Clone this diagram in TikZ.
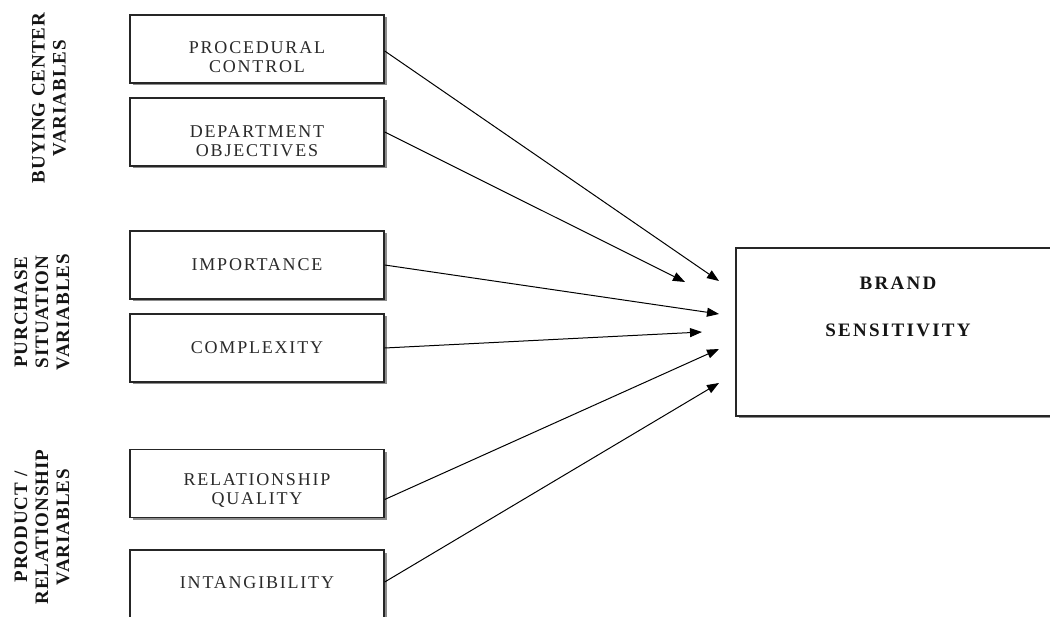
\documentclass[tikz,border=0pt]{standalone}
\usepackage{fontspec}
\setmainfont{Liberation Serif}
\newfontfamily\boxfont[LetterSpace=10]{Liberation Serif}
\newfontfamily\labfont[LetterSpace=5]{Liberation Serif}
\newfontfamily\brandfont[LetterSpace=12]{Liberation Serif}
\usetikzlibrary{arrows.meta,shadows}
\definecolor{boxtext}{HTML}{2A2A2A}
\definecolor{labtext}{HTML}{151515}
\begin{document}
\begin{tikzpicture}[x=1pt,y=1pt,
  varbox/.style={draw=black!85,line width=1.4pt,fill=white,minimum width=254pt,minimum height=68pt,inner sep=0pt,
    drop shadow={opacity=1,fill=black!45,shadow xshift=2.5pt,shadow yshift=-2.5pt}},
  boxlabel/.style={text=boxtext,font=\boxfont\fontsize{18}{19.5}\selectfont,align=center,inner sep=0pt},
  grouplabel/.style={text=labtext,font=\labfont\bfseries\fontsize{19}{21}\selectfont,align=center,rotate=90,inner sep=0pt},
  brandlabel/.style={text=labtext,font=\brandfont\bfseries\fontsize{19}{20}\selectfont,inner sep=0pt},
  conn/.style={line width=1pt,black,-{Triangle[length=12pt,width=9pt]}}]
\useasboundingbox (0,0) rectangle (1050,-617);
\clip (0,0) rectangle (1050,-617);
\fill[white] (0,0) rectangle (1050,-617);
% group labels
\node[grouplabel] (g1) at (49,-98) {BUYING CENTER\\VARIABLES};
\node[grouplabel] (g2) at (42,-312) {PURCHASE\\SITUATION\\VARIABLES};
\node[grouplabel] (g3) at (42,-527) {PRODUCT /\\RELATIONSHIP\\VARIABLES};
% boxes
\node[varbox] (b1) at (257,-49) {};
\node[varbox] (b2) at (257,-132) {};
\node[varbox] (b3) at (257,-265) {};
\node[varbox] (b4) at (257,-348) {};
\node[varbox] (b5) at (257,-483.5) {};
\node[varbox,minimum height=70pt] (b6) at (257,-585) {};
\node[boxlabel] (t1) at ([yshift=-8pt]b1.center) {PROCEDURAL\\CONTROL};
\node[boxlabel] (t2) at ([yshift=-9pt]b2.center) {DEPARTMENT\\OBJECTIVES};
\node[boxlabel] (t3) at ([yshift=0pt]b3.center) {IMPORTANCE};
\node[boxlabel] (t4) at ([yshift=0pt]b4.center) {COMPLEXITY};
\node[boxlabel] (t5) at ([yshift=-7pt]b5.center) {RELATIONSHIP\\QUALITY};
\node[boxlabel] (t6) at ([yshift=2pt]b6.center) {INTANGIBILITY};
% brand box
\node[varbox,minimum width=324pt,minimum height=168pt] (br) at (898,-332) {};
\node[brandlabel] (brand) at (898,-283) {BRAND};
\node[brandlabel] (sens) at (898,-330) {SENSITIVITY};
% arrow tips
\coordinate (e1) at (719,-281);
\coordinate (e2) at (685,-282);
\coordinate (e3) at (719,-314);
\coordinate (e4) at (702,-332);
\coordinate (e5) at (719,-349);
\coordinate (e6) at (719,-383);
\draw[conn] ([yshift=-2pt]b1.east) -- (e1);
\draw[conn] (b2.east) -- (e2);
\draw[conn] (b3.east) -- (e3);
\draw[conn] (b4.east) -- (e4);
\draw[conn] ([yshift=-16pt]b5.east) -- (e5);
\draw[conn] ([yshift=3pt]b6.east) -- (e6);
\end{tikzpicture}
\end{document}
